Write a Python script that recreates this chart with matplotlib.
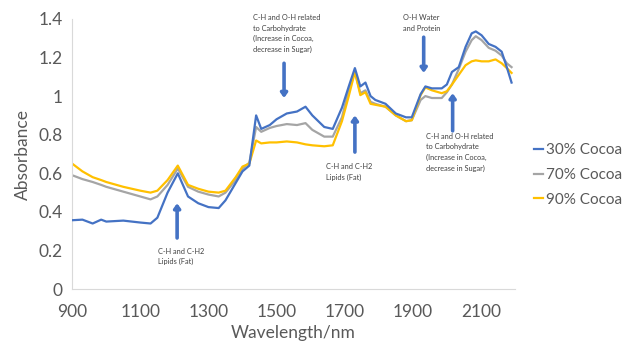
import numpy as np
import matplotlib.pyplot as plt

plt.rcParams['font.family'] = ['Lato', 'DejaVu Sans']

# Wavelength grid (nm)
wavelength = [900, 930, 960, 985, 1000, 1050, 1100, 1130, 1150, 1180, 1210, 1240, 1270,
              1300, 1330, 1350, 1380, 1400, 1420, 1440, 1455, 1480, 1500, 1530, 1560,
              1585, 1605, 1640, 1665, 1692, 1712, 1730, 1746, 1761, 1776, 1790, 1820,
              1850, 1880, 1897, 1923, 1937, 1956, 1985, 2000, 2015, 2035, 2055, 2073,
              2085, 2102, 2123, 2143, 2161, 2176, 2190]

cocoa_30 = [0.357, 0.36, 0.34, 0.36, 0.35, 0.355, 0.345, 0.34, 0.37, 0.50, 0.60, 0.48, 0.445,
            0.425, 0.42, 0.46, 0.55, 0.61, 0.64, 0.90, 0.83, 0.85, 0.88, 0.91, 0.92,
            0.945, 0.90, 0.84, 0.83, 0.94, 1.05, 1.145, 1.05, 1.07, 1.00, 0.98, 0.96,
            0.91, 0.89, 0.89, 1.01, 1.05, 1.04, 1.04, 1.06, 1.125, 1.15, 1.255, 1.325,
            1.335, 1.315, 1.27, 1.255, 1.23, 1.15, 1.07]

cocoa_70 = [0.59, 0.57, 0.555, 0.54, 0.53, 0.505, 0.48, 0.465, 0.48, 0.54, 0.625, 0.53, 0.505,
            0.49, 0.48, 0.50, 0.565, 0.625, 0.655, 0.84, 0.815, 0.835, 0.845, 0.855, 0.85,
            0.86, 0.825, 0.79, 0.79, 0.89, 1.03, 1.125, 1.015, 1.03, 0.97, 0.96, 0.945,
            0.90, 0.87, 0.875, 0.98, 1.0, 0.99, 0.99, 1.02, 1.06, 1.14, 1.23, 1.29,
            1.31, 1.29, 1.25, 1.235, 1.21, 1.17, 1.15]

cocoa_90 = [0.65, 0.61, 0.58, 0.565, 0.555, 0.53, 0.51, 0.50, 0.51, 0.565, 0.64, 0.54, 0.52,
            0.505, 0.50, 0.51, 0.58, 0.635, 0.65, 0.77, 0.755, 0.76, 0.76, 0.765, 0.76,
            0.75, 0.745, 0.74, 0.745, 0.87, 1.00, 1.125, 1.005, 1.02, 0.96, 0.955, 0.945,
            0.90, 0.87, 0.875, 1.005, 1.045, 1.03, 1.015, 1.025, 1.06, 1.11, 1.16, 1.18,
            1.185, 1.18, 1.18, 1.19, 1.17, 1.145, 1.12]

series_names = ['30% Cocoa', '70% Cocoa', '90% Cocoa']
series_colors = ['#4472C4', '#A5A5A5', '#FFC000']

x_ticks = [900, 1100, 1300, 1500, 1700, 1900, 2100]
y_ticks = [0, 0.2, 0.4, 0.6, 0.8, 1, 1.2, 1.4]
y_tick_labels = ['0', '0.2', '0.4', '0.6', '0.8', '1', '1.2', '1.4']

carb_text = 'C-H and O-H related\nto Carbohydrate\n(Increase in Cocoa,\ndecrease in Sugar)'
lipid_text = 'C-H and C-H2\nLipids (Fat)'

# (text, text x, text y, arrow x, arrow tail y, arrow head y)
notes = [
    (carb_text, 1430, 1.425, 1522, 1.17, 0.99),
    (lipid_text, 1152, 0.215, 1208, 0.265, 0.445),
    (lipid_text, 1645, 0.655, 1730, 0.71, 0.90),
    ('O-H Water\nand Protein', 1870, 1.425, 1932, 1.305, 1.12),
    (carb_text, 1940, 0.81, 2017, 0.82, 1.015),
]

fig = plt.figure(figsize=(6.28, 3.43), dpi=100)
ax = fig.add_axes([0.115, 0.157, 0.705, 0.788])

for vals, name, col in zip([cocoa_30, cocoa_70, cocoa_90], series_names, series_colors):
    ax.plot(wavelength, vals, color=col, lw=1.6, label=name)

# blue drawn over the others
ax.lines[0].set_zorder(3)

for txt, tx, ty, axx, y0, y1 in notes:
    ax.text(tx, ty, txt, fontsize=5.3, color='#404040', va='top', ha='left', linespacing=1.6)
    ax.annotate('', xy=(axx, y1), xytext=(axx, y0),
                arrowprops=dict(arrowstyle='-|>,head_width=0.18,head_length=0.25',
                                color='#4472C4', lw=2.6, shrinkA=0, shrinkB=0))

ax.set_xlim(900, 2200)
ax.set_ylim(0, 1.4)
ax.set_xticks(x_ticks)
ax.set_yticks(y_ticks)
ax.set_yticklabels(y_tick_labels)
ax.tick_params(length=0, labelsize=12.5, labelcolor='#595959')
ax.tick_params(axis='x', pad=11)
ax.tick_params(axis='y', pad=7)
for s in ['top', 'right']:
    ax.spines[s].set_visible(False)
for s in ['left', 'bottom']:
    ax.spines[s].set_color('#D9D9D9')
ax.set_xlabel('Wavelength/nm', fontsize=12.5, color='#595959', labelpad=3)
ax.set_ylabel('Absorbance', fontsize=12.5, color='#595959', labelpad=5)

fig.legend(loc='center left', bbox_to_anchor=(0.845, 0.49), frameon=False,
           fontsize=11, labelcolor='#595959', handlelength=0.6, handletextpad=0.2,
           labelspacing=0.7, borderpad=0.2, borderaxespad=0)

fig.savefig('out.png', dpi=100)
